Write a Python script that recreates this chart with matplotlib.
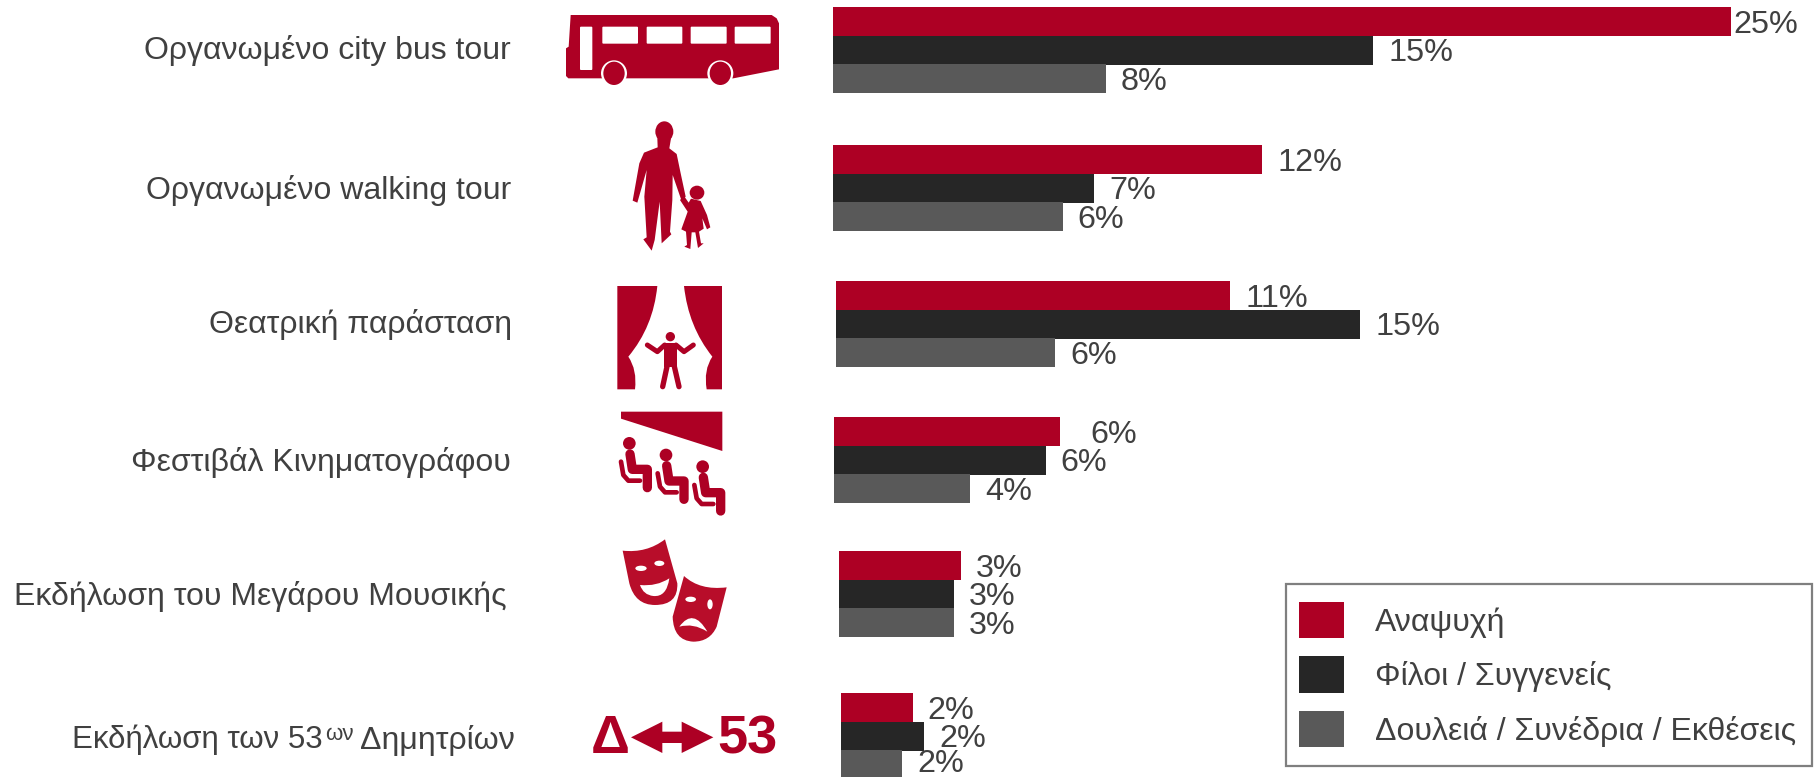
import matplotlib
matplotlib.use('Agg')
import matplotlib.pyplot as plt
from matplotlib.patches import Ellipse, PathPatch, Polygon, FancyBboxPatch, Patch, Rectangle
from matplotlib.path import Path

plt.rcParams['font.family'] = ['Liberation Sans', 'DejaVu Sans']

categories = ['Οργανωμένο city bus tour', 'Οργανωμένο walking tour', 'Θεατρική παράσταση',
              'Φεστιβάλ Κινηματογράφου', 'Εκδήλωση του Μεγάρου Μουσικής']
series_names = ['Αναψυχή', 'Φίλοι / Συγγενείς', 'Δουλειά / Συνέδρια / Εκθέσεις']
# bar lengths as drawn in the picture, labels as printed
leisure = [25.0, 11.95, 10.98, 6.3, 3.4, 2.0]
friends = [15.05, 7.27, 14.6, 5.9, 3.2, 2.31]
business = [7.6, 6.4, 6.1, 3.8, 3.2, 1.7]
leisure_labels = ['25%', '12%', '11%', '6%', '3%', '2%']
friends_labels = ['15%', '7%', '15%', '6%', '3%', '2%']
business_labels = ['8%', '6%', '6%', '4%', '3%', '2%']

RED = '#AD0024'
DARK = '#262626'
GREY = '#595959'
TEXT = '#404040'
W, H = 1818, 777
PX = 35.9  # pixels per percent
X0 = 833
group_y = [50, 188, 324, 460, 594, 736]
group_shift = [0, 0, 3, 1, 6, 8]  # the groups do not share a baseline in the original

fig = plt.figure(figsize=(W / 100, H / 100), dpi=100)
ax = fig.add_axes([0, 0, 1, 1])
ax.set_xlim(-X0 / PX, (W - X0) / PX)
ax.set_ylim(H, 0)
ax.axis('off')

rows = [(leisure, leisure_labels, RED, -28.5), (friends, friends_labels, DARK, 0), (business, business_labels, GREY, 28.5)]
for vals, labels, color, dy in rows:
    for i, v in enumerate(vals):
        left = group_shift[i] / PX
        ax.barh(group_y[i] + dy, v, left=left, height=29, color=color, linewidth=0)
        gap = 15
        if labels[i] == '25%':
            gap = 3
        if color == RED and i == 3:
            gap = 30
        # last label sits right on the bottom edge
        up = 0.5 if (color == GREY and i == 5) else -2.5
        ax.annotate(labels[i], (left + v, group_y[i] + dy), xytext=(gap * 0.72, up),
                    textcoords='offset points', va='center', ha='left', fontsize=23.3, color=TEXT)

# overlay in pixel coords for names and icons
ov = fig.add_axes([0, 0, 1, 1])
ov.set_xlim(0, W)
ov.set_ylim(H, 0)
ov.axis('off')
ov.patch.set_alpha(0)

label_right = [511, 511, 512, 511, 507]
label_y = [51, 191, 325, 462, 596]
for i, c in enumerate(categories):
    ov.text(label_right[i], label_y[i], c, ha='right', va='center', fontsize=23, color=TEXT)
# last label has a superscript
ov.text(323, 740, 'Εκδήλωση των 53', ha='right', va='center', fontsize=22.5, color=TEXT)
ov.text(325, 734, 'ων', ha='left', va='center', fontsize=16, color=TEXT)
ov.text(515, 740, 'Δημητρίων', ha='right', va='center', fontsize=23, color=TEXT)


# icon coordinates are taken from 3x crops, hence the origin + zoom / 3
def zp(pts, ox, oy):
    return [(ox + x / 3, oy + y / 3) for x, y in pts]


def poly(pts, ox, oy, color=RED):
    ov.add_patch(Polygon(zp(pts, ox, oy), closed=True, fc=color, ec='none'))


def ell(x, y, w, h, ox, oy, color=RED):
    ov.add_patch(Ellipse((ox + x / 3, oy + y / 3), w / 3, h / 3, fc=color, ec='none'))


def curved(pts, codes, ox, oy, color=RED):
    ov.add_patch(PathPatch(Path(zp(pts, ox, oy), codes), fc=color, ec='none'))


def stroke(pts, lw, ox, oy, color=RED):
    xy = zp(pts, ox, oy)
    ov.plot([p[0] for p in xy], [p[1] for p in xy], color=color, lw=lw * 0.24,
            solid_capstyle='round', solid_joinstyle='round')


M, L, Q, Z = Path.MOVETO, Path.LINETO, Path.CURVE3, Path.CLOSEPOLY

# bus
ox, oy = 560, 0
poly([(32, 45), (635, 45), (650, 55), (657, 70), (657, 208), (520, 235), (25, 235), (18, 228), (18, 145), (26, 140)], ox, oy)
for x0, x1, y0, y1 in [(60, 97, 80, 210), (127, 234, 80, 131), (260, 367, 80, 131), (392, 500, 80, 131), (524, 632, 80, 131)]:
    ov.add_patch(FancyBboxPatch((ox + x0 / 3 + 1, oy + y0 / 3 + 1), (x1 - x0) / 3 - 2, (y1 - y0) / 3 - 2,
                                boxstyle='round,pad=1', fc='white', ec='none'))
for cx in [162, 481]:
    ell(cx, 220, 78, 78, ox, oy, 'white')
    ell(cx, 220, 64, 70, ox, oy)

# adult and child
ell(313, 395, 54, 62, ox, oy)
poly([(292, 415), (333, 415), (328, 445), (350, 462), (362, 520), (377, 590), (365, 603), (338, 525), (337, 600),
      (330, 695), (334, 703), (305, 730), (299, 605), (284, 720), (275, 752), (250, 718), (260, 712), (253, 590),
      (260, 510), (232, 608), (218, 602), (238, 490), (252, 458), (293, 442)], ox, oy)
ell(411, 578, 44, 42, ox, oy)
poly([(393, 596), (422, 603), (441, 645), (451, 682), (441, 688), (427, 655), (431, 686), (417, 695), (423, 730),
      (431, 730), (414, 744), (406, 697), (395, 697), (391, 747), (373, 740), (381, 735), (378, 695), (364, 688),
      (383, 635), (360, 600), (372, 588), (386, 608)], ox, oy)

# curtains with performer
ox, oy = 560, 260
curved([(172, 78), (292, 78), (280, 200), (205, 290), (232, 330), (225, 388), (172, 388), (172, 78)],
       [M, L, Q, Q, Q, Q, L, Z], ox, oy)
curved([(486, 78), (372, 78), (385, 200), (457, 290), (430, 330), (440, 388), (486, 388), (486, 78)],
       [M, L, Q, Q, Q, Q, L, Z], ox, oy)
ell(331, 230, 28, 28, ox, oy)
poly([(312, 248), (352, 248), (352, 322), (312, 322)], ox, oy)
stroke([(262, 255), (292, 275), (314, 255)], 15, ox, oy)
stroke([(400, 255), (372, 275), (348, 255)], 15, ox, oy)
stroke([(322, 315), (308, 380)], 16, ox, oy)
stroke([(342, 315), (357, 380)], 16, ox, oy)

# cinema
poly([(183, 455), (487, 455), (487, 573), (183, 476)], ox, oy)
for dx, dy in [(0, 0), (110, 35), (220, 70)]:
    ell(208 + dx, 550 + dy, 38, 38, ox, oy)
    stroke([(210 + dx, 582 + dy), (217 + dx, 628 + dy), (262 + dx, 628 + dy), (262 + dx, 683 + dy)], 28, ox, oy)
    stroke([(183 + dx, 605 + dy), (190 + dx, 645 + dy), (205 + dx, 662 + dy), (240 + dx, 662 + dy)], 14, ox, oy)

# masks
ox, oy = 560, 520
curved([(188, 92), (260, 100), (315, 58), (352, 190), (355, 255), (285, 255), (225, 255), (208, 190), (188, 92)],
       [M, Q, Q, L, Q, Q, Q, Q, Z], ox, oy, '#B80D2A')
ell(243, 145, 34, 16, ox, oy, 'white')
ell(298, 130, 30, 16, ox, oy, 'white')
curved([(240, 195), (290, 200), (328, 175), (320, 232), (280, 228), (250, 225), (240, 195)],
       [M, Q, Q, Q, Q, Q, Z], ox, oy, 'white')
curved([(372, 168), (420, 212), (500, 202), (470, 320), (450, 365), (400, 365), (340, 362), (338, 290), (372, 168)],
       [M, Q, Q, L, Q, Q, Q, Q, Z], ox, oy, '#B80D2A')
ell(392, 238, 32, 16, ox, oy, 'white')
ell(450, 253, 16, 30, ox, oy, 'white')
curved([(358, 320), (400, 262), (442, 335), (400, 308), (358, 320)], [M, Q, Q, Q, Q], ox, oy, 'white')

# Δ <-> 53
ov.text(ox + 151 / 3, oy + 658 / 3, 'Δ', ha='center', va='center', fontsize=39, fontweight='bold', color=RED)
poly([(213, 652), (307, 605), (307, 635), (365, 635), (365, 605), (460, 652), (365, 699), (365, 669), (307, 669), (307, 699)], ox, oy)
ov.text(ox + 562 / 3, oy + 658 / 3, '53', ha='center', va='center', fontsize=39, fontweight='bold', color=RED)

# the box is wider at the sides than at the top, so it is drawn apart from the legend
ov.add_patch(Rectangle((1286, 584), 526, 182, fc='white', ec='#7F7F7F', lw=1.6))
handles = [Patch(fc=c, ec='none', label=n) for c, n in zip([RED, DARK, GREY], series_names)]
leg = ov.legend(handles=handles, loc='upper left', bbox_to_anchor=(1299 / W, 1 - 602 / H), bbox_transform=fig.transFigure,
                fontsize=23, frameon=False, borderaxespad=0, borderpad=0, handlelength=1.42, handleheight=1.38,
                labelspacing=0.56, handletextpad=0.95, labelcolor=TEXT)

fig.savefig('out.png', dpi=100)
